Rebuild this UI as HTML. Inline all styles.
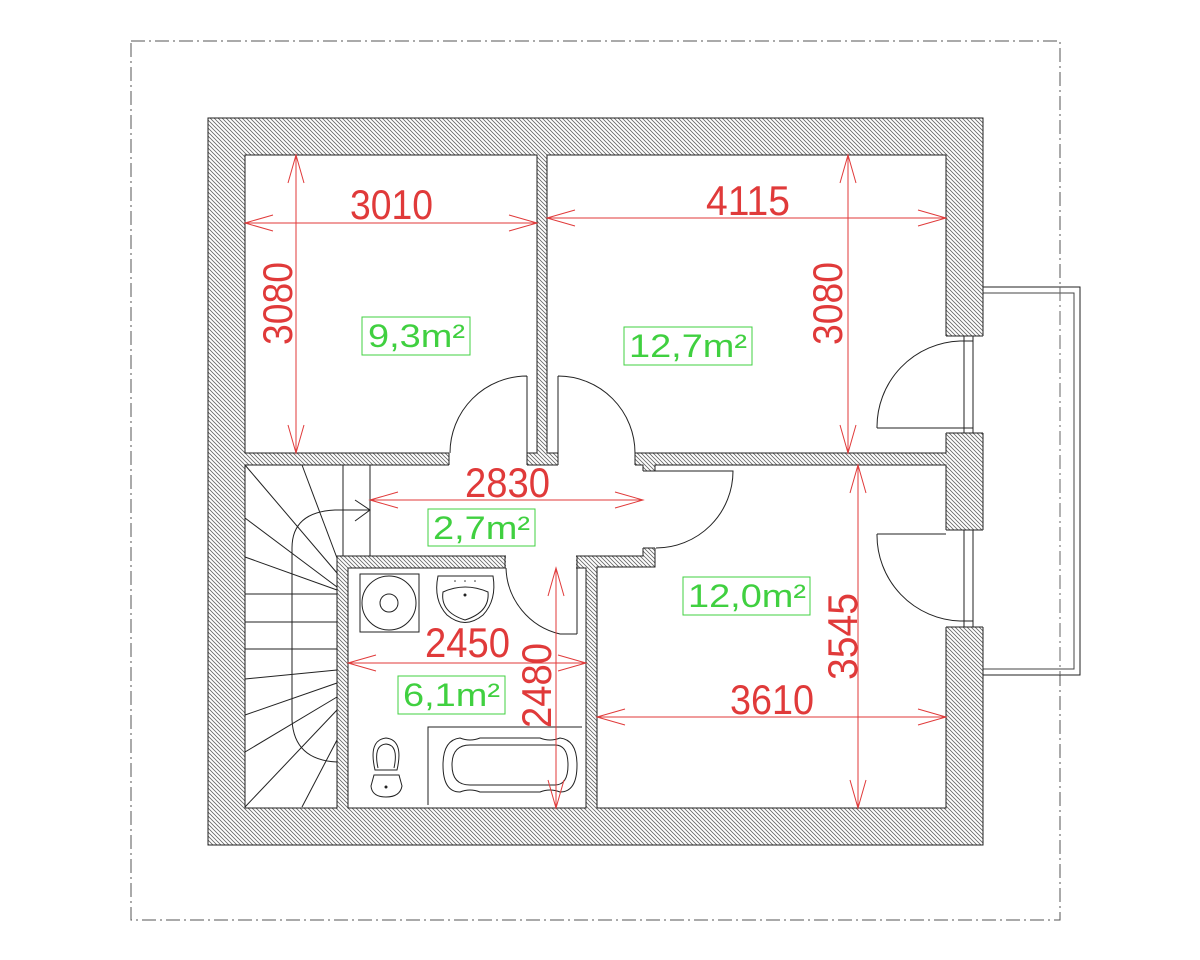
<!DOCTYPE html>
<html><head><meta charset="utf-8"><style>html,body{margin:0;padding:0;background:#fff}svg{display:block}</style></head><body>
<svg width="1200" height="960" viewBox="0 0 1200 960" xmlns="http://www.w3.org/2000/svg">
<defs>
<pattern id="h" patternUnits="userSpaceOnUse" width="4" height="4">
<path d="M-1,-1 L5,5 M-1,3 L1,5 M3,-1 L5,1" stroke="#666" stroke-width="0.8"/>
</pattern>
</defs>
<rect width="1200" height="960" fill="#fff"/>
<!-- border dash-dot -->
<rect x="131" y="41" width="929" height="879" fill="none" stroke="#555" stroke-width="1" stroke-dasharray="14,4,2,4"/>
<!-- balcony -->
<rect x="983" y="287" width="97" height="388" fill="#fff" stroke="#222" stroke-width="1"/>
<rect x="983" y="293" width="91" height="376" fill="none" stroke="#444" stroke-width="1"/>
<line x1="1060" y1="287" x2="1060" y2="675" stroke="#666" stroke-dasharray="14,4,2,4"/>
<!-- wall mass -->
<rect x="208" y="118" width="775" height="727" fill="url(#h)" stroke="#222" stroke-width="1"/>
<g fill="#fff" stroke="#222" stroke-width="1">
<rect x="245" y="155" width="292" height="298"/>
<rect x="547" y="155" width="399" height="298"/>
<polygon points="245,465 643,465 643,556 577,556 505,556 337,556 337,808 245,808"/>
<rect x="348" y="568" width="238" height="240"/>
<polygon points="655,465 946,465 946,808 597,808 597,567 655,567"/>
</g>
<!-- openings -->
<g fill="#fff" stroke="none">
<rect x="449" y="452" width="78" height="14"/>
<rect x="558" y="452" width="77" height="14"/>
<rect x="642" y="471" width="14" height="77"/>
<rect x="506" y="555" width="70" height="14"/>
<rect x="945" y="336" width="39" height="97"/>
<rect x="945" y="530" width="39" height="97"/>
</g>
<g fill="none" stroke="#222" stroke-width="1">
<line x1="449" y1="453" x2="449" y2="465"/><line x1="527" y1="453" x2="527" y2="465"/>
<line x1="558" y1="453" x2="558" y2="465"/><line x1="635" y1="453" x2="635" y2="465"/>
<line x1="643" y1="471" x2="655" y2="471"/><line x1="643" y1="548" x2="655" y2="548"/>
<line x1="505" y1="556" x2="505" y2="568"/><line x1="577" y1="556" x2="577" y2="634"/>
<line x1="586" y1="568" x2="586" y2="808"/>
<!-- doors -->
<path d="M527,376 L527,453 M527,376 A77,77 0 0 0 450,453"/>
<path d="M558,376 L558,453 M558,376 A77,77 0 0 1 635,453"/>
<path d="M655,471 L733,471 A77,77 0 0 1 656,548"/>
<path d="M506,568 A70,70 0 0 0 560,634 L577,634"/>
<!-- windows -->
<path d="M946,336 L983,336 M946,433 L983,433 M964,336 L964,433 M973,336 L973,433"/>
<path d="M946,530 L983,530 M946,627 L983,627 M964,530 L964,627 M973,530 L973,627"/>
<path d="M877,428 L973,428 M877,428 A86,86 0 0 1 960,341 L973,341"/>
<path d="M877,534 L946,534 M877,534 A86,86 0 0 0 960,621 L973,621"/>
<!-- stairs -->
<line x1="343" y1="465" x2="343" y2="556"/><line x1="370" y1="465" x2="370" y2="556"/>
<path d="M370,510 L335,510 Q292,512 292,548 L292,720 Q294,760 337,762"/>
<path d="M355,500 L370,510 L355,521"/>
<line x1="302" y1="465" x2="337" y2="558"/>
<line x1="245" y1="465" x2="337" y2="573"/>
<line x1="245" y1="518" x2="337" y2="587"/>
<line x1="245" y1="557" x2="337" y2="590"/>
<line x1="245" y1="594" x2="337" y2="594"/>
<line x1="245" y1="622" x2="337" y2="622"/>
<line x1="245" y1="649" x2="337" y2="649"/>
<line x1="245" y1="679" x2="337" y2="670"/>
<line x1="245" y1="715" x2="337" y2="683"/>
<line x1="245" y1="752" x2="337" y2="697"/>
<line x1="245" y1="807" x2="337" y2="710"/>
<line x1="302" y1="807" x2="337" y2="740"/>
<!-- washer -->
<rect x="360" y="574" width="59" height="58"/>
<circle cx="389" cy="603" r="27"/><circle cx="389" cy="603" r="9"/>
<!-- sink -->
<path d="M438,576 L493,576 Q497,600 483,615 Q465,630 447,615 Q433,600 438,576 Z"/>
<path d="M443,592 Q465,582 488,592 Q490,612 465,620 Q440,612 443,592 Z"/>
<!-- toilet -->
<path d="M375,770 Q368,740 386,738 Q404,740 397,770 Z"/>
<path d="M378,768 Q373,745 386,744 Q399,745 394,768"/>
<path d="M371,786 L374,775 L399,775 L402,786 Q400,797 386,797 Q372,797 371,786 Z"/>
<!-- bath -->
<path d="M428,805 L428,727 L582,727"/>
<path d="M460,738 Q443,740 443,765 Q443,792 460,792 Q470,788 480,792 L540,792 Q550,788 560,792 Q577,792 577,765 Q577,740 560,738 Q550,742 540,738 L480,738 Q470,742 460,738 Z"/>
<path d="M470,745 L555,745 Q568,745 568,765 Q568,785 555,785 L470,785 Q452,785 452,765 Q452,745 470,745 Z"/>
</g>
<circle cx="465" cy="595" r="1.5" fill="#222"/>
<circle cx="386" cy="787" r="1.5" fill="#222"/>
<g fill="#333"><circle cx="455" cy="581" r="0.8"/><circle cx="465" cy="581" r="0.8"/><circle cx="475" cy="581" r="0.8"/></g>
<!-- dimensions -->
<g stroke="#e03a3a" stroke-width="1" fill="none">
<path d="M245,223 L537,223 M273,215 L245,223 L273,231 M509,215 L537,223 L509,231"/>
<path d="M296,155 L296,453 M288,183 L296,155 L304,183 M288,425 L296,453 L304,425"/>
<path d="M547,218 L946,218 M575,210 L547,218 L575,226 M918,210 L946,218 L918,226"/>
<path d="M848,155 L848,453 M840,183 L848,155 L856,183 M840,425 L848,453 L856,425"/>
<path d="M370,500 L643,500 M398,492 L370,500 L398,508 M615,492 L643,500 L615,508"/>
<path d="M348,663 L586,663 M376,655 L348,663 L376,671 M558,655 L586,663 L558,671"/>
<path d="M556,568 L556,808 M548,596 L556,568 L564,596 M548,780 L556,808 L564,780"/>
<path d="M858,465 L858,808 M850,493 L858,465 L866,493 M850,780 L858,808 L866,780"/>
<path d="M597,717 L946,717 M625,709 L597,717 L625,725 M918,709 L946,717 L918,725"/>
</g>
<g fill="#e03a3a" font-family="Liberation Sans, sans-serif" font-size="42">
<text x="350" y="219" textLength="83" lengthAdjust="spacingAndGlyphs">3010</text>
<text x="706" y="215" textLength="84" lengthAdjust="spacingAndGlyphs">4115</text>
<text x="465" y="497" textLength="85" lengthAdjust="spacingAndGlyphs">2830</text>
<text x="425" y="657" textLength="85" lengthAdjust="spacingAndGlyphs">2450</text>
<text x="730" y="714" textLength="84" lengthAdjust="spacingAndGlyphs">3610</text>
<text transform="translate(292,345) rotate(-90)" textLength="83" lengthAdjust="spacingAndGlyphs">3080</text>
<text transform="translate(842,345) rotate(-90)" textLength="83" lengthAdjust="spacingAndGlyphs">3080</text>
<text transform="translate(551,728) rotate(-90)" textLength="85" lengthAdjust="spacingAndGlyphs">2480</text>
<text transform="translate(857,680) rotate(-90)" textLength="87" lengthAdjust="spacingAndGlyphs">3545</text>
</g>
<!-- areas -->
<g stroke="#40d040" fill="none" stroke-width="1">
<rect x="362" y="317" width="108" height="38"/>
<rect x="624" y="327" width="128" height="38"/>
<rect x="428" y="509" width="107" height="37"/>
<rect x="683" y="577" width="127" height="38"/>
<rect x="398" y="676" width="107" height="38"/>
</g>
<g fill="#40d040" font-family="Liberation Sans, sans-serif" font-size="32">
<text x="368" y="347" textLength="97" lengthAdjust="spacingAndGlyphs">9,3m²</text>
<text x="629" y="357" textLength="118" lengthAdjust="spacingAndGlyphs">12,7m²</text>
<text x="433" y="539" textLength="97" lengthAdjust="spacingAndGlyphs">2,7m²</text>
<text x="688" y="607" textLength="118" lengthAdjust="spacingAndGlyphs">12,0m²</text>
<text x="403" y="706" textLength="97" lengthAdjust="spacingAndGlyphs">6,1m²</text>
</g>
</svg>
</body></html>
